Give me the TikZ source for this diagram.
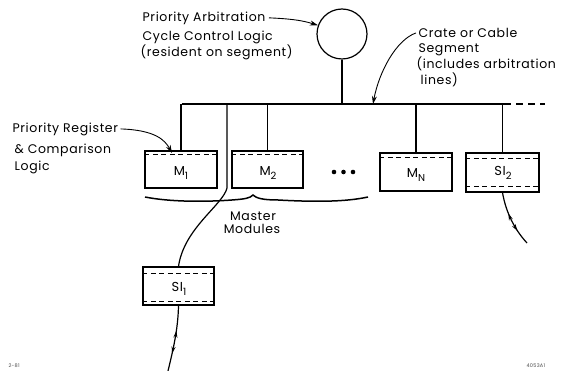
\documentclass[tikz,border=0pt]{standalone}
\usepackage{fontspec}
\setmainfont{Poppins}[LetterSpace=5]
\usetikzlibrary{arrows.meta,decorations.markings}
\newcommand\lsub[1]{\raisebox{-0.45ex}{\fontsize{10}{10}\selectfont #1}}
\begin{document}
\begin{tikzpicture}[x=1pt,y=-1pt,line width=1.2pt,
  lbl/.style={anchor=base west,inner sep=0pt,font=\fontsize{12.5}{15}\selectfont},
  clbl/.style={anchor=base,inner sep=0pt,font=\fontsize{12.5}{15}\selectfont},
  inlbl/.style={inner sep=0pt,font=\fontsize{13}{15}\selectfont},
  modbox/.style={draw,rectangle,inner sep=0pt,line width=1.2pt},
  dline/.style={dash pattern=on 5pt off 3.5pt,line width=0.9pt},
  tip/.style={-{Stealth[length=8pt,width=5pt]}},
  sig/.style={postaction={decorate},decoration={markings,
     mark=at position 0.38 with {\arrowreversed{Stealth[length=7pt,width=4pt]}},
     mark=at position 0.73 with {\arrow{Stealth[length=7pt,width=4pt]}}}},
  tiny/.style={inner sep=0pt,anchor=base west,font=\fontsize{5}{6}\selectfont,text=black!70}]
\useasboundingbox (0,0) rectangle (568,371);

% arbitration logic circle
\node[draw,circle,minimum size=50pt,inner sep=0pt,line width=1.2pt] (ctl) at (342,34) {};

% bus
\coordinate (busL) at (182,104);
\coordinate (busR) at (504,104);
\coordinate (busE) at (545,104);
\coordinate (busA) at (373,104);
\draw (busL) -- (busR);
\draw[dash pattern=on 7pt off 5pt] (busR) -- (busE);
\draw (ctl.south) -- (ctl.south |- busL);

% modules
\node[modbox,minimum width=72pt,minimum height=37pt] (m1) at (181,169.5) {};
\node[modbox,minimum width=71pt,minimum height=37pt] (m2) at (267.5,169.5) {};
\node[modbox,minimum width=72pt,minimum height=38pt] (mn) at (416,172) {};
\node[modbox,minimum width=73pt,minimum height=39pt] (si2) at (502.5,172.5) {};
\node[modbox,minimum width=71pt,minimum height=38pt] (si1) at (178.5,286) {};

\draw[dline] ([yshift=-4.5pt]m1.north west) -- ([yshift=-4.5pt]m1.north east);
\draw[dline] ([yshift=-4.5pt]m2.north west) -- ([yshift=-4.5pt]m2.north east);
\draw[dline] ([yshift=-5pt]mn.north west) -- ([yshift=-5pt]mn.north east);
\draw[dline] ([yshift=-6pt]si2.north west) -- ([yshift=-6pt]si2.north east);
\draw[dline] ([yshift=6.5pt]si2.south west) -- ([yshift=6.5pt]si2.south east);
\draw[dline] ([yshift=-7pt]si1.north west) -- ([yshift=-7pt]si1.north east);
\draw[dline] ([yshift=4.5pt]si1.south west) -- ([yshift=4.5pt]si1.south east);

\node[inlbl] (m1l) at (181,173) {M\lsub{1}};
\node[inlbl] (m2l) at (268,173) {M\lsub{2}};
\node[inlbl] (mnl) at (416,175) {M\lsub{N}};
\node[inlbl] (si2l) at (503,173) {SI\lsub{2}};
\node[inlbl] (si1l) at (179,289) {SI\lsub{1}};

% dots
\fill (334,172) circle (2.3pt) (343.5,172) circle (2.3pt) (353,172) circle (2.3pt);

% drops from bus
\draw (m1.north |- busL) -- (m1.north);
\draw (m2.north |- busL) -- (m2.north);
\draw (mn.north |- busL) -- (mn.north);
\draw (si2.north |- busL) -- (si2.north);
\coordinate (d1) at (227,104);
\draw (d1) -- (227,188) .. controls (223,205) and (184,228) .. (si1.north);

% brace
\draw[line width=1.5pt] (145,197) .. controls (170,202) and (205,202) .. (232,200)
      .. controls (246,199) and (250,198) .. (253,195)
      .. controls (256,198) and (262,200) .. (278,200)
      .. controls (315,202) and (345,202) .. (368,197);
\node[clbl] (mast) at (253,221) {Master};
\node[clbl] (mods) at (252,234) {Modules};

% serial links
\coordinate (s1e) at (168,371);
\coordinate (s2e) at (527,243);
\draw[sig] (si1.south) .. controls (178,330) and (173,350) .. (s1e);
\draw[sig] (si2.south) .. controls (506,213) and (515,230) .. (s2e);

% labels
\node[lbl] (pa) at (142,22) {Priority Arbitration};
\node[lbl] (pb) at (142,41) {Cycle Control Logic};
\node[lbl] (pc) at (140,57) {(resident on segment)};
\draw[tip,line width=0.9pt] ([xshift=3pt,yshift=1pt]pa.east) .. controls (298,19) and (307,22) .. (ctl.160);

\node[lbl] (ca) at (418,37.5) {Crate or Cable};
\node[lbl] (cb) at (418,53) {Segment};
\node[lbl] (cc) at (416,69) {(includes arbitration};
\node[lbl] (cd) at (420,85) {lines)};
\draw[tip,line width=0.9pt] ([xshift=-2pt]ca.west) .. controls (396,40) and (379,72) .. (busA);

\node[lbl] (ra) at (12,133) {Priority Register};
\node[lbl] (rb) at (14,154) {\& Comparison};
\node[lbl] (rc) at (14,171) {Logic};
\coordinate (m1a) at (172,153);
\draw[tip,line width=0.9pt] ([xshift=2pt,yshift=1pt]ra.east) .. controls (155,130) and (165,140) .. (m1a);

% footer marks
\node[tiny] (fl) at (8,368) {2-81};
\node[tiny] (fr) at (526,368) {4053A1};
\end{tikzpicture}
\end{document}
